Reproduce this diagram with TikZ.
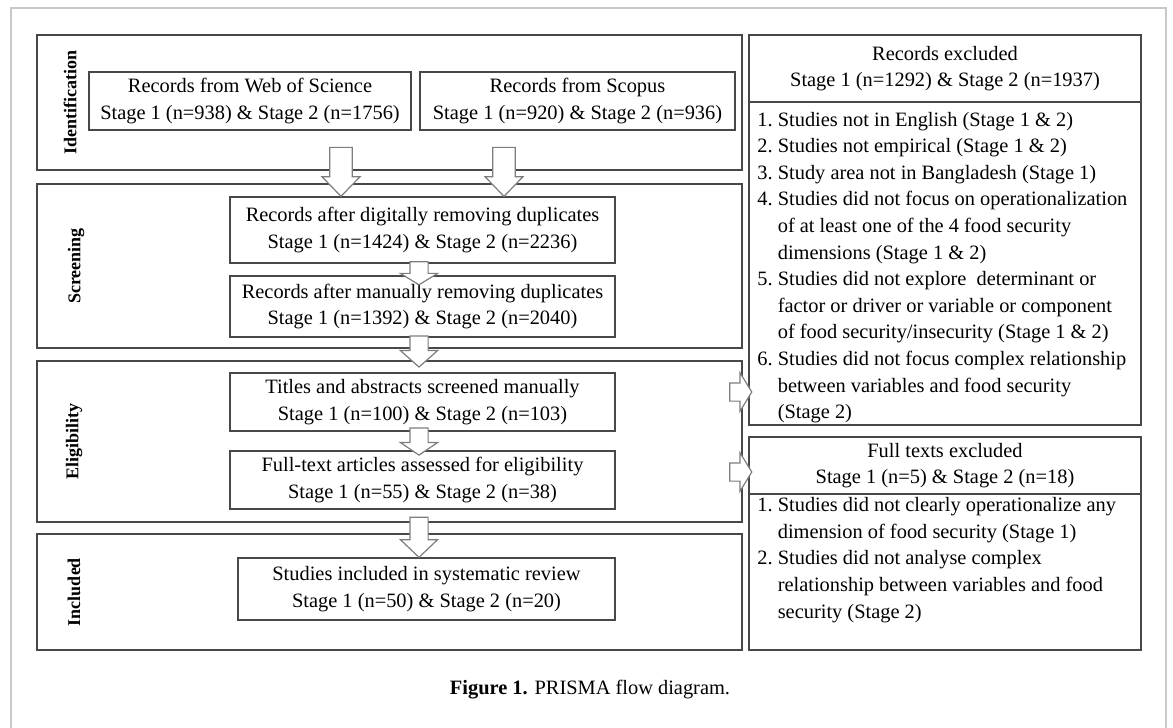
\documentclass[tikz,border=0pt]{standalone}
\usepackage{fontspec}
\setmainfont{Liberation Serif}
\usetikzlibrary{shapes.arrows, positioning}

\definecolor{boxgray}{RGB}{72,72,72}
\definecolor{arrowgray}{RGB}{125,125,125}
\definecolor{framegray}{RGB}{200,200,200}

\begin{document}
\begin{tikzpicture}[
  x=0.5pt, y=-0.5pt,
  txt/.style={font=\fontsize{10.2}{13.3}\selectfont},
  panel/.style={draw=boxgray, line width=0.6pt, minimum width=352.5pt, inner sep=0pt},
  box/.style={draw=boxgray, line width=0.6pt, fill=white, txt, align=center, inner sep=0pt},
  listbox/.style={draw=boxgray, line width=0.6pt, minimum width=196pt, inner sep=0pt},
  listtext/.style={txt, align=left, inner sep=0pt, anchor=west},
  stagelabel/.style={rotate=90, font=\fontsize{9}{11}\selectfont\bfseries},
  blockarrow/.style={single arrow, draw=arrowgray, fill=white, line width=0.6pt,
    inner xsep=0pt, single arrow head indent=0pt},
  downarrow/.style 2 args={blockarrow, rotate=-90, minimum height=#1,
    single arrow tip angle=#2, inner ysep=4.25pt, single arrow head extend=4.75pt},
  sidearrow/.style={blockarrow, rotate=0.01, minimum height=11pt,
    single arrow tip angle=117, inner ysep=4.25pt, single arrow head extend=5pt}
]
\useasboundingbox (0,0) rectangle (1173,728);

% outer frame
\draw[framegray, line width=0.75pt] (11,730) -- (11,8) -- (1166,8) -- (1166,730);

% stage panels
\node[panel, minimum height=67.5pt] (pid)  at (389.5,102.5) {};
\node[panel, minimum height=82pt]   (pscr) at (389.5,266)   {};
\node[panel, minimum height=80.5pt] (pel)  at (389.5,441.5) {};
\node[panel, minimum height=58pt]   (pinc) at (389.5,592)   {};

\node[stagelabel] (lid)  at (70,102.5) {Identification};
\node[stagelabel] (lscr) at (76,266)   {Screening};
\node[stagelabel] (lel)  at (74,441.5) {Eligibility};
\node[stagelabel] (linc) at (74,592)   {Included};

% flow boxes
\node[box, minimum width=161pt, minimum height=29pt] (wos) at (250,101)
  {Records from Web of Science\\Stage 1 (n=938) \& Stage 2 (n=1756)};
\node[box, minimum width=157.5pt, minimum height=29pt] (scopus) at (577.5,101)
  {Records from Scopus\\Stage 1 (n=920) \& Stage 2 (n=936)};
\node[box, minimum width=192.5pt, minimum height=33pt] (dig) at (422.5,230)
  {Records after digitally removing duplicates\\Stage 1 (n=1424) \& Stage 2 (n=2236)};
\node[box, minimum width=192.5pt, minimum height=30.5pt] (man) at (422.5,306.5)
  {Records after manually removing duplicates\\Stage 1 (n=1392) \& Stage 2 (n=2040)};
\node[box, minimum width=192.5pt, minimum height=29pt] (tit) at (422.5,402)
  {Titles and abstracts screened manually\\Stage 1 (n=100) \& Stage 2 (n=103)};
\node[box, minimum width=192.5pt, minimum height=29pt] (ft) at (422.5,480)
  {Full-text articles assessed for eligibility\\Stage 1 (n=55) \& Stage 2 (n=38)};
\node[box, minimum width=188.5pt, minimum height=31pt] (inc) at (426.5,589)
  {Studies included in systematic review\\Stage 1 (n=50) \& Stage 2 (n=20)};

% exclusion boxes
\node[box, minimum width=196pt, minimum height=33.5pt] (rexhead) at (945,68.5)
  {Records excluded\\Stage 1 (n=1292) \& Stage 2 (n=1937)};
\node[listbox, minimum height=161.5pt] (rexbody) at (945,263.5) {};
\node[listtext] (rexlist) at (757,267.5)
  {1.~Studies not in English (Stage 1 \& 2)\\
   2.~Studies not empirical (Stage 1 \& 2)\\
   3.~Study area not in Bangladesh (Stage 1)\\
   4.~Studies did not focus on operationalization\\
   \phantom{4.~}of at least one of the 4 food security\\
   \phantom{4.~}dimensions (Stage 1 \& 2)\\
   5.~Studies did not explore\ \ determinant or\\
   \phantom{5.~}factor or driver or variable or component\\
   \phantom{5.~}of food security/insecurity (Stage 1 \& 2)\\
   6.~Studies did not focus complex relationship\\
   \phantom{6.~}between variables and food security\\
   \phantom{6.~}(Stage 2)};

\node[box, minimum width=196pt, minimum height=28.5pt] (fexhead) at (945,465.5)
  {Full texts excluded\\Stage 1 (n=5) \& Stage 2 (n=18)};
\node[listbox, minimum height=78pt] (fexbody) at (945,572) {};
\node[listtext] (fexlist) at (757,560)
  {1.~Studies did not clearly operationalize any\\
   \phantom{1.~}dimension of food security (Stage 1)\\
   2.~Studies did not analyse complex\\
   \phantom{2.~}relationship between variables and food\\
   \phantom{2.~}security (Stage 2)};

% block arrows
\node[blockarrow, rotate=-90, minimum height=24.5pt, single arrow tip angle=88,
  inner ysep=5.35pt, single arrow head extend=3.8pt] (a1) at (341,166) {};
\node[blockarrow, rotate=-90, minimum height=24.5pt, single arrow tip angle=88,
  inner ysep=5.35pt, single arrow head extend=3.8pt] (a2) at (504,166) {};
\node[downarrow={11.5pt}{117}]  (a3) at (419,270.5) {};
\node[downarrow={15.5pt}{97}]   (a4) at (419,347.5) {};
\node[downarrow={13.5pt}{112}]  (a5) at (419,438.5) {};
\node[downarrow={20pt}{93}]     (a6) at (419,533)   {};
\node[sidearrow] (r1) at (738,392) {};
\node[sidearrow] (r2) at (738,472) {};

% caption
\node[txt] (caption) at (590,690) {\textbf{Figure 1.} PRISMA flow diagram.};

\end{tikzpicture}
\end{document}
